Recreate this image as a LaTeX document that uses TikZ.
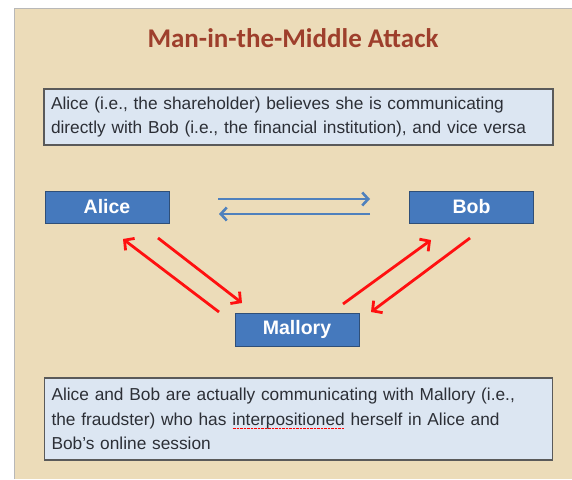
\documentclass[tikz,border=0pt]{standalone}
\usepackage{fontspec}
\setmainfont{Liberation Sans}
\newfontfamily\titlefont{Carlito}
\usetikzlibrary{arrows.meta}
\definecolor{parch}{HTML}{ECDCB9}
\definecolor{paneledge}{HTML}{B8B8B8}
\definecolor{titlered}{HTML}{9E3F2C}
\definecolor{boxblue}{HTML}{4579BD}
\definecolor{boxblueedge}{HTML}{2F4F78}
\definecolor{notefill}{HTML}{DCE6F2}
\definecolor{noteedge}{HTML}{5A5A5A}
\definecolor{notetext}{HTML}{2C2F36}
\definecolor{arrblue}{HTML}{4F81BD}
\definecolor{arrred}{HTML}{FF1010}
\newcommand\spellul[1]{\setbox0=\hbox{#1}\rlap{\raisebox{-3.5pt}[0pt][0pt]{\textcolor{red}{\leaders\hbox to 1.4pt{\hss\rule{0.9pt}{0.7pt}\hss}\hskip\wd0}}}\box0\relax}
\tikzset{
  notebox/.style={draw=noteedge, line width=1.3pt, fill=notefill, text=notetext,
    font=\fontsize{17.3}{24.8}\selectfont, align=left, inner xsep=7pt, inner ysep=4pt,
    text width=#1, anchor=center},
  person/.style={draw=boxblueedge, line width=1pt, fill=boxblue, text=white,
    font=\fontsize{19.5}{22}\selectfont\bfseries, minimum width=124pt, minimum height=32pt,
    inner sep=0pt},
  bluearr/.style={draw=arrblue, line width=2.6pt,
    -{Straight Barb[length=6pt,width=13pt,line width=2.6pt]}},
  redarr/.style={draw=arrred, line width=2.8pt,
    -{Straight Barb[length=7pt,width=15pt,line width=2.8pt]}},
}
\begin{document}
\begin{tikzpicture}[x=1pt,y=-1pt]
\useasboundingbox (0,0) rectangle (572,479);
\fill[white] (0,0) rectangle (572,479);
\fill[parch] (14,8) rectangle (572,479);
\draw[paneledge, line width=1pt] (14,479) -- (14,8) -- (572,8);

\node[text=titlered, font=\titlefont\bfseries\fontsize{27}{30}\selectfont] (title) at (293,38) {Man-in-the-Middle Attack};

\node[notebox=495pt, minimum height=56pt] (top) at (298.5,117)
  {Alice (i.e., the shareholder) believes she is communicating\\directly with Bob (i.e., the financial institution), and vice versa};

\node[person] (alice) at (107,207) {Alice};
\node[person] (bob) at (471.5,207) {Bob};
\node[person, minimum height=33pt] (mallory) at (297,329.5) {Mallory};

\node[notebox=494pt, minimum height=82pt] (bottom) at (298.5,419)
  {Alice and Bob are actually communicating with Mallory (i.e.,\\the fraudster) who has \spellul{interpositioned} herself in Alice and\\Bob’s online session};

% blue connectors between Alice and Bob
\coordinate (ab1) at (218,199);
\coordinate (ab2) at (370,199);
\coordinate (ba1) at (370,214);
\coordinate (ba2) at (219,214);
\draw[bluearr] (ab1) -- (ab2);
\draw[bluearr] (ba1) -- (ba2);

% red connectors through Mallory
\coordinate (am1) at (158,238);
\coordinate (am2) at (242,303);
\coordinate (ma1) at (219,312);
\coordinate (ma2) at (123,239);
\coordinate (mb1) at (343,304);
\coordinate (mb2) at (431,240);
\coordinate (bm1) at (470,238);
\coordinate (bm2) at (371,312);
\draw[redarr] (am1) -- (am2);
\draw[redarr] (ma1) -- (ma2);
\draw[redarr] (mb1) -- (mb2);
\draw[redarr] (bm1) -- (bm2);
\end{tikzpicture}
\end{document}
